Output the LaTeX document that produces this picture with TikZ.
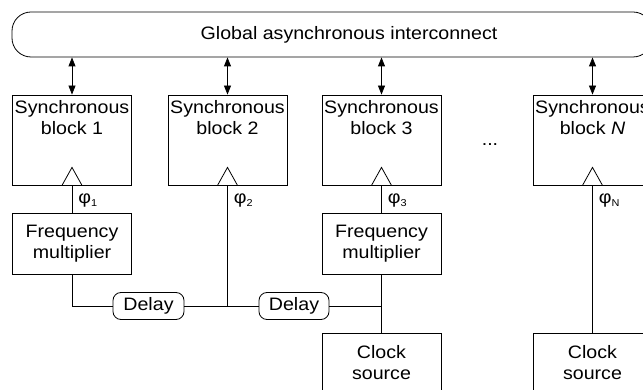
\documentclass[tikz,border=0pt]{standalone}
\usepackage{fontspec}
\setmainfont{Liberation Sans}[FakeStretch=1.09]
\usetikzlibrary{arrows.meta}
\begin{document}
\begin{tikzpicture}[x=1pt,y=-1pt,line width=0.8pt,
  every node/.style={font=\fontsize{18}{21.5}\selectfont},
  blockbox/.style={draw,minimum width=119pt,minimum height=90pt,inner sep=0pt},
  toptext/.style={align=center,anchor=north,inner sep=0pt,yshift=-5pt},
  fmbox/.style={draw,minimum width=119pt,minimum height=61pt,inner sep=0pt,align=center},
  delaybox/.style={draw,rounded corners=8pt,minimum height=27pt,inner sep=0pt},
  clockbox/.style={draw,minimum width=119pt,minimum height=80pt,inner sep=0pt},
  clocktext/.style={align=center,anchor=north,inner sep=0pt,yshift=-12pt},
  phitext/.style={anchor=west,inner sep=0pt},
  biarrow/.style={{Triangle[width=7pt,length=9pt]}-{Triangle[width=7pt,length=9pt]}}
]
\useasboundingbox (0,0) rectangle (643,390);
\clip (0,0) rectangle (643,390);
\newcommand{\phisub}[1]{φ\raisebox{-3pt}{\fontsize{10}{10}\selectfont #1}}

\node[draw,rounded corners=19pt,minimum width=640pt,minimum height=45pt,inner sep=0pt,
  label={[xshift=17pt]center:Global asynchronous interconnect}] (gi) at (332,34.5) {};

\node[blockbox,label={[toptext]north:{Synchronous\\block 1}}] (b1) at (72,140) {};
\node[blockbox,label={[toptext]north:{Synchronous\\block 2}}] (b2) at (227.5,140) {};
\node[blockbox,label={[toptext]north:{Synchronous\\block 3}}] (b3) at (381.5,140) {};
\node[blockbox,label={[toptext]north:{Synchronous\\block \textit{N}}}] (bN) at (592.5,140) {};
\node (dots) at (490,145) {...};

\foreach \b in {b1,b2,b3,bN}{
  \draw[biarrow] (\b.north |- gi.south) -- (\b.north);
  \draw (\b.south) +(-10,0) -- +(0,-18) -- +(10,0);
}

\node[phitext] (p1) at ([xshift=6pt,yshift=-15pt]b1.south) {\phisub{1}};
\node[phitext] (p2) at ([xshift=6pt,yshift=-15pt]b2.south) {\phisub{2}};
\node[phitext] (p3) at ([xshift=6pt,yshift=-15pt]b3.south) {\phisub{3}};
\node[phitext] (pN) at ([xshift=6pt,yshift=-15pt]bN.south) {\phisub{N}};

\node[fmbox] (fm1) at (72,243.5) {Frequency\\multiplier};
\node[fmbox] (fm3) at (381.5,243.5) {Frequency\\multiplier};

\node[delaybox,minimum width=71pt] (d1) at (148.5,306) {Delay};
\node[delaybox,minimum width=70pt] (d2) at (294,306) {Delay};

\node[clockbox,label={[clocktext]north:{Clock\\source}}] (c1) at (381.5,373) {};
\node[clockbox,label={[clocktext]north:{Clock\\source}}] (c2) at (592.5,373) {};

\draw (b1.south) -- (fm1.north);
\draw (b2.south) -- (b2.south |- d1.east);
\draw (b3.south) -- (fm3.north);
\draw (bN.south) -- (c2.north);
\draw (fm1.south) |- (d1.west);
\draw (d1.east) -- (d2.west);
\draw (d2.east) -- (d2.east -| fm3.south);
\draw (fm3.south) -- (c1.north);
\end{tikzpicture}
\end{document}
